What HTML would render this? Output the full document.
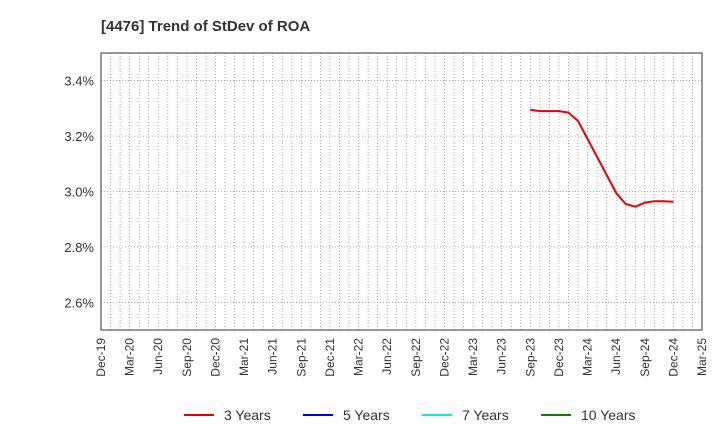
<!DOCTYPE html>
<html><head><meta charset="utf-8"><style>
body{margin:0;background:#fff;font-family:"Liberation Sans",sans-serif;}
</style></head><body>
<svg id="c" width="720" height="440" xmlns="http://www.w3.org/2000/svg">
<text x="101" y="31" font-size="15" font-weight="bold" fill="#333">[4476]  Trend of StDev of ROA</text>
<g id="grid"></g><g id="axes"></g><g id="series"></g>
<g font-size="14" fill="#333">
<g><line x1="184" y1="415" x2="214" y2="415" stroke="#e00" stroke-width="2"/><text x="224" y="420">3 Years</text></g>
<g><line x1="303" y1="415" x2="333" y2="415" stroke="#00c" stroke-width="2"/><text x="343" y="420">5 Years</text></g>
<g><line x1="422" y1="415" x2="452" y2="415" stroke="#0ee" stroke-width="2"/><text x="462" y="420">7 Years</text></g>
<g><line x1="541" y1="415" x2="571" y2="415" stroke="#080" stroke-width="2"/><text x="581" y="420">10 Years</text></g>
</g>
</svg>
<script>
const xLabels=["Dec-19","Mar-20","Jun-20","Sep-20","Dec-20","Mar-21","Jun-21","Sep-21","Dec-21","Mar-22","Jun-22","Sep-22","Dec-22","Mar-23","Jun-23","Sep-23","Dec-23","Mar-24","Jun-24","Sep-24","Dec-24","Mar-25"];
const yTicks=[2.6,2.8,3.0,3.2,3.4];
const startMonth=45; // months since Dec-19 (Sep-23)
const series3=[3.295,3.29,3.29,3.29,3.285,3.255,3.19,3.125,3.06,2.995,2.955,2.945,2.96,2.965,2.965,2.963];
const L=101,R=702,T=53,B=330,ymin=2.5,ymax=3.5,months=63;
const xs=m=>L+(R-L)*m/months, ys=v=>B-(B-T)*(v-ymin)/(ymax-ymin);
const NS="http://www.w3.org/2000/svg";
function mk(t,a,p){const e=document.createElementNS(NS,t);for(const k in a)e.setAttribute(k,a[k]);p.appendChild(e);return e;}
const g=document.getElementById('grid'),ax=document.getElementById('axes'),se=document.getElementById('series');
for(let m=1;m<months;m++){const l=mk('line',{x1:xs(m),x2:xs(m),y1:T,y2:B,stroke:'#999','stroke-width':0.8,'stroke-dasharray':'1,2'},g);

}
yTicks.forEach(v=>{const l=mk('line',{x1:L,x2:R,y1:ys(v),y2:ys(v),stroke:'#999','stroke-width':0.8,'stroke-dasharray':'1,2'},g);


const t=mk('text',{x:L-7,y:ys(v)+5,'text-anchor':'end','font-size':13,fill:'#333'},ax);t.textContent=v.toFixed(1)+'%';

});
const fr=mk('rect',{x:L,y:T,width:R-L,height:B-T,fill:'none',stroke:'#333','stroke-width':1},ax);


xLabels.forEach((s,i)=>{const x=xs(i*3);const t=mk('text',{x:x+4,y:B+8,'text-anchor':'end','font-size':12,fill:'#333',transform:`rotate(-90 ${x+4} ${B+8})`},ax);t.textContent=s;

});
const p=mk('polyline',{points:series3.map((v,i)=>xs(startMonth+i)+','+ys(v)).join(' '),fill:'none',stroke:'#e00','stroke-width':2},se);


</script>
</body></html>
